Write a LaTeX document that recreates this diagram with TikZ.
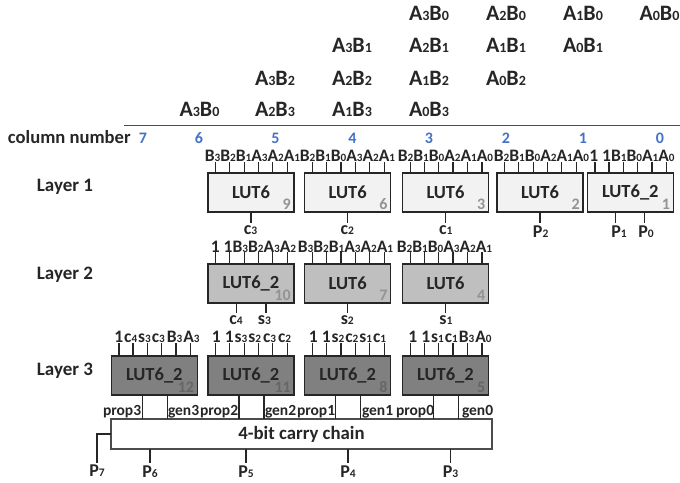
\documentclass[tikz,border=0pt]{standalone}
\usepackage{fontspec}
\setmainfont{Carlito}
\usepackage{xcolor}
\definecolor{ink}{HTML}{262626}
\definecolor{colblue}{HTML}{4472C4}
\makeatletter
\newcommand{\dgt}[1]{{\fontsize{\strip@pt\dimexpr0.64\dimexpr\f@size pt\relax\relax}{10}\selectfont #1}}
\makeatother

\begin{document}
\begin{tikzpicture}[
  x=1pt, y=-1pt,
  txt/.style={font=\bfseries\fontsize{18}{18}\selectfont, text=ink, inner sep=0pt, outer sep=0pt},
  term/.style={txt, anchor=base west, font=\bfseries\fontsize{22}{22}\selectfont},
  pinrow/.style={txt, anchor=base, font=\bfseries\fontsize{17.5}{18}\selectfont},
  outlabel/.style={txt, anchor=base},
  smalllabel/.style={txt, anchor=base west, font=\bfseries\fontsize{15.5}{15.5}\selectfont},
  layername/.style={txt, font=\bfseries\fontsize{19}{19}\selectfont},
  colnum/.style={txt, anchor=base, text=colblue, font=\bfseries\fontsize{16}{16}\selectfont},
  lut/.style={draw=ink, line width=1.5pt, minimum width=86pt, minimum height=39pt, inner sep=0pt, outer sep=0pt, font=\bfseries\fontsize{18.5}{18.5}\selectfont, text=ink},
  lutA/.style={lut, fill=black!5},
  lutB/.style={lut, fill=black!25},
  lutC/.style={lut, fill=black!50},
  lutindex/.style={inner sep=0pt, anchor=base east, font=\bfseries\fontsize{16}{16}\selectfont},
  chain/.style={draw=black!70, line width=1.3pt, fill=white, minimum width=381pt, minimum height=30pt, inner sep=0pt, outer sep=0pt, font=\bfseries\fontsize{18.8}{18.8}\selectfont, text=ink},
  wire/.style={draw=ink, line width=1.3pt},
  outwire/.style={wire, shorten >=2pt}
]
\useasboundingbox (0,0) rectangle (680,482);

% partial products
\node[term] (t30) at (409,20.7) {A\dgt{3}B\dgt{0}};
\node[term] (t20) at (486,20.7) {A\dgt{2}B\dgt{0}};
\node[term] (t10) at (563,20.7) {A\dgt{1}B\dgt{0}};
\node[term] (t00) at (639.5,20.7) {A\dgt{0}B\dgt{0}};
\node[term] (t31) at (332,52.3) {A\dgt{3}B\dgt{1}};
\node[term] (t21) at (409,52.3) {A\dgt{2}B\dgt{1}};
\node[term] (t11) at (486,52.3) {A\dgt{1}B\dgt{1}};
\node[term] (t01) at (563,52.3) {A\dgt{0}B\dgt{1}};
\node[term] (t32) at (255,85) {A\dgt{3}B\dgt{2}};
\node[term] (t22) at (332,85) {A\dgt{2}B\dgt{2}};
\node[term] (t12) at (409,85) {A\dgt{1}B\dgt{2}};
\node[term] (t02) at (486,85) {A\dgt{0}B\dgt{2}};
\node[term] (t33) at (179.5,116.7) {A\dgt{3}B\dgt{0}};
\node[term] (t23) at (255,116.7) {A\dgt{2}B\dgt{3}};
\node[term] (t13) at (332,116.7) {A\dgt{1}B\dgt{3}};
\node[term] (t03) at (409,116.7) {A\dgt{0}B\dgt{3}};
\coordinate (ruleL) at (124,125);
\coordinate (ruleR) at (680,125);
\draw[draw=black!70, line width=1pt] (ruleL) -- (ruleR);

% column numbers
\node[txt, anchor=base west, font=\bfseries\fontsize{18.6}{18.6}\selectfont] (colname) at (8,143) {column number};
\foreach \n/\cx in {7/143,6/199,5/275.5,4/352.5,3/429,2/506,1/583,0/660}
  \node[colnum] (col\n) at (\cx,143) {\n};

\node[layername] (layer1) at (65,187) {Layer 1};
\node[layername] (layer2) at (65,275) {Layer 2};
\node[layername] (layer3) at (65,371) {Layer 3};

% LUTs
\node[lutA] (lut9) at (251,192.7) {LUT6};
\node[lutA] (lut6) at (347.7,192.7) {LUT6};
\node[lutA] (lut3) at (445.5,192.7) {LUT6};
\node[lutA] (lut2) at (540,192.7) {LUT6};
\node[lutA] (lut1) at (630.3,192.7) {LUT6\_2};
\node[lutB] (lut10) at (251,283.3) {LUT6\_2};
\node[lutB] (lut7) at (347.7,283.3) {LUT6};
\node[lutB] (lut4) at (445.5,283.3) {LUT6};
\node[lutC] (lut12) at (154.3,375.3) {LUT6\_2};
\node[lutC] (lut11) at (251,375.3) {LUT6\_2};
\node[lutC] (lut8) at (347.7,375.3) {LUT6\_2};
\node[lutC] (lut5) at (445.5,375.3) {LUT6\_2};
\node[chain] (carry) at (301.5,434) {4-bit carry chain};

% lut inputs
\node[pinrow] (pins9) at (252.5,161.7) {B\dgt{3}B\dgt{2}B\dgt{1}A\dgt{3}A\dgt{2}A\dgt{1}};
\node[pinrow] (pins6) at (347.5,161.7) {B\dgt{2}B\dgt{1}B\dgt{0}A\dgt{3}A\dgt{2}A\dgt{1}};
\node[pinrow] (pins3) at (445.5,161.7) {B\dgt{2}B\dgt{1}B\dgt{0}A\dgt{2}A\dgt{1}A\dgt{0}};
\node[pinrow] (pins2) at (541.5,161.7) {B\dgt{2}B\dgt{1}B\dgt{0}A\dgt{2}A\dgt{1}A\dgt{0}};
\node[pinrow] (pins1) at (632,161.7) {1 1B\dgt{1}B\dgt{0}A\dgt{1}A\dgt{0}};
\node[pinrow] (pins10) at (253.5,252) {1 1B\dgt{3}B\dgt{2}A\dgt{3}A\dgt{2}};
\node[pinrow] (pins7) at (345.5,252) {B\dgt{3}B\dgt{2}B\dgt{1}A\dgt{3}A\dgt{2}A\dgt{1}};
\node[pinrow] (pins4) at (444.5,252) {B\dgt{2}B\dgt{1}B\dgt{0}A\dgt{3}A\dgt{2}A\dgt{1}};
\node[pinrow] (pins12) at (157,342.7) {1\kern1pt c\dgt{4}\kern1pt s\dgt{3}\kern1pt c\dgt{3}\kern2pt B\dgt{3}\kern1pt A\dgt{3}};
\node[pinrow] (pins11) at (251.5,342.7) {1 1\kern1pt s\dgt{3}\kern1pt s\dgt{2}\kern2pt c\dgt{3}\kern2pt c\dgt{2}};
\node[pinrow] (pins8) at (347.5,342.7) {1 1\kern1pt s\dgt{2}\kern1pt c\dgt{2}\kern1pt s\dgt{1}\kern1pt c\dgt{1}};
\node[pinrow] (pins5) at (450,342.7) {1 1\kern1pt s\dgt{1}\kern1pt c\dgt{1}\kern1pt B\dgt{3}\kern1pt A\dgt{0}};
\foreach \nm in {9,6,3,2,1,10,7,4,12,11,8,5}
  \foreach \dx in {7.7,21.7,36.2,50.5,64.7,79.5}
    \draw[wire] ([xshift=\dx pt]lut\nm.north west) -- ([xshift=\dx pt]lut\nm.north west |- pins\nm.south);
\foreach \nm/\col in {9/ink!50,6/ink!50,3/ink!50,2/ink!50,1/ink!50,10/ink!50,7/ink!50,4/ink!50,12/black!60,11/black!60,8/black!60,5/black!60}
  \node[lutindex, text=\col] (idx\nm) at ([xshift=-3pt,yshift=2.5pt]lut\nm.south east) {\nm};

% lut outputs
\node[outlabel] (c3) at (250.5,234) {c\dgt{3}};
\node[outlabel] (c2) at (347.3,234) {c\dgt{2}};
\node[outlabel] (c1) at (445.7,234) {c\dgt{1}};
\node[outlabel] (p2) at (540.7,237) {P\dgt{2}};
\node[outlabel] (p1) at (619,237) {P\dgt{1}};
\node[outlabel] (p0) at (646,237) {P\dgt{0}};
\node[outlabel] (c4) at (236,324) {c\dgt{4}};
\node[outlabel] (s3) at (264.5,324) {s\dgt{3}};
\node[outlabel] (s2) at (347.3,324) {s\dgt{2}};
\node[outlabel] (s1) at (446,324) {s\dgt{1}};
\draw[outwire] (lut9.south) -- (c3.north -| lut9.south);
\draw[outwire] (lut6.south) -- (c2.north -| lut6.south);
\draw[outwire] (lut3.south) -- (c1.north -| lut3.south);
\draw[outwire] (lut2.south) -- (p2.north -| lut2.south);
\draw[outwire] (lut1.south west) ++(28,0) coordinate (p1out) -- (p1out |- p1.north);
\draw[outwire] (lut1.south west) ++(57.5,0) coordinate (p0out) -- (p0out |- p0.north);
\draw[outwire] (lut10.south west) ++(28.5,0) coordinate (c4out) -- (c4out |- c4.north);
\draw[outwire] (lut10.south west) ++(58,0) coordinate (s3out) -- (s3out |- s3.north);
\draw[outwire] (lut7.south) -- (s2.north -| lut7.south);
\draw[outwire] (lut4.south) -- (s1.north -| lut4.south);

% propagate and generate
\foreach \nm/\n in {12/3,11/2,8/1,5/0}{
  \draw[wire] ([xshift=31pt]lut\nm.south west) -- ([xshift=31pt]lut\nm.south west |- carry.north);
  \draw[wire] ([xshift=56pt]lut\nm.south west) -- ([xshift=56pt]lut\nm.south west |- carry.north);
}
\node[smalllabel] (prop3) at (103,415) {prop3};
\node[smalllabel] (gen3) at (168,415) {gen3};
\node[smalllabel] (prop2) at (200,415) {prop2};
\node[smalllabel] (gen2) at (265,415) {gen2};
\node[smalllabel] (prop1) at (297,415) {prop1};
\node[smalllabel] (gen1) at (362,415) {gen1};
\node[smalllabel] (prop0) at (396,415) {prop0};
\node[smalllabel] (gen0) at (462,415) {gen0};

% carry outputs
\node[outlabel] (p7) at (97,476.7) {P\dgt{7}};
\node[outlabel] (p6) at (150,477) {P\dgt{6}};
\node[outlabel] (p5) at (246,477) {P\dgt{5}};
\node[outlabel] (p4) at (348,477) {P\dgt{4}};
\node[outlabel] (p3) at (450.5,477) {P\dgt{3}};
\draw[outwire] (carry.west) -| (p7.north);
\draw[outwire] (carry.south -| p6.north) -- (p6.north);
\draw[outwire] (carry.south -| p5.north) -- (p5.north);
\draw[outwire] (carry.south -| p4.north) -- (p4.north);
\draw[outwire] (carry.south -| p3.north) -- (p3.north);
\end{tikzpicture}
\end{document}
